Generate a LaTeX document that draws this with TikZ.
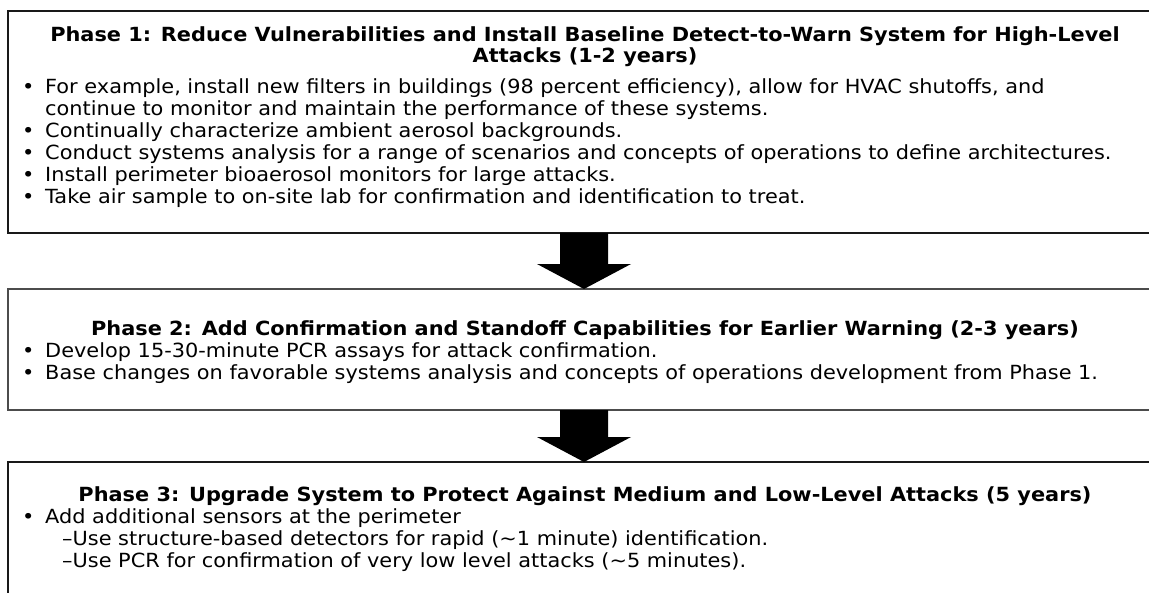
\documentclass[tikz,border=0pt]{standalone}
\usepackage{fontspec}
\setmainfont[FakeStretch=1.07]{DejaVu Sans}
\usetikzlibrary{calc}
\newcommand{\bul}[1]{\makebox[23pt][l]{•}#1}
\begin{document}
\begin{tikzpicture}[x=1pt,y=-1pt,
  box/.style={draw=black!90, line width=1.2pt, inner sep=0pt, outer sep=0pt, anchor=north west, minimum width=1152pt},
  ttl/.style={font=\fontsize{19.5}{21.6}\selectfont\bfseries, inner sep=0pt, anchor=base},
  txt/.style={font=\fontsize{19.5}{21.6}\selectfont, inner sep=0pt, anchor=base west},
  bigarrow/.style={fill=black, draw=none}]
\useasboundingbox (0,0) rectangle (1149,592);
\clip (0,0) rectangle (1149,592);
\fill[white] (0,0) rectangle (1149,592);

% boxes
\node[box, minimum height=222pt] (b1) at (8,11) {};
\node[box, draw=black!70, minimum height=121pt] (b2) at (8,289) {};
\node[box, minimum height=160pt] (b3) at (8,462) {};

% arrows
\fill[bigarrow] ($(b1.south)+(-24,0)$) -- ($(b1.south)+(24,0)$) -- ($(b2.north)+(24,-25)$) -- ($(b2.north)+(47,-25)$) -- (b2.north) -- ($(b2.north)+(-47,-25)$) -- ($(b2.north)+(-24,-25)$) -- cycle;
\fill[bigarrow] ($(b2.south)+(-24,0)$) -- ($(b2.south)+(24,0)$) -- ($(b3.north)+(24,-25)$) -- ($(b3.north)+(47,-25)$) -- (b3.north) -- ($(b3.north)+(-47,-25)$) -- ($(b3.north)+(-24,-25)$) -- cycle;

% Phase 1
\node[ttl] (t1a) at (585,41) {Phase 1: Reduce Vulnerabilities and Install Baseline Detect-to-Warn System for High-Level};
\node[ttl] (t1b) at (585,62.5) {Attacks (1-2 years)};
\node[txt] (p1a) at (22,93) {\bul{For example, install new filters in buildings (98 percent efficiency), allow for HVAC shutoffs, and}};
\node[txt] (p1b) at (45,115) {continue to monitor and maintain the performance of these systems.};
\node[txt] (p1c) at (22,137) {\bul{Continually characterize ambient aerosol backgrounds.}};
\node[txt] (p1d) at (22,159) {\bul{Conduct systems analysis for a range of scenarios and concepts of operations to define architectures.}};
\node[txt] (p1e) at (22,181) {\bul{Install perimeter bioaerosol monitors for large attacks.}};
\node[txt] (p1f) at (22,203) {\bul{Take air sample to on-site lab for confirmation and identification to treat.}};

% Phase 2
\node[ttl] (t2) at (585,335) {Phase 2: Add Confirmation and Standoff Capabilities for Earlier Warning (2-3 years)};
\node[txt] (p2a) at (22,357) {\bul{Develop 15-30-minute PCR assays for attack confirmation.}};
\node[txt] (p2b) at (22,379) {\bul{Base changes on favorable systems analysis and concepts of operations development from Phase 1.}};

% Phase 3
\node[ttl] (t3) at (585,501) {Phase 3: Upgrade System to Protect Against Medium and Low-Level Attacks (5 years)};
\node[txt] (p3a) at (22,523) {\bul{Add additional sensors at the perimeter}};
\node[txt] (p3b) at (62,545) {–Use structure-based detectors for rapid (\textasciitilde 1 minute) identification.};
\node[txt] (p3c) at (62,567) {–Use PCR for confirmation of very low level attacks (\textasciitilde 5 minutes).};
\end{tikzpicture}
\end{document}
